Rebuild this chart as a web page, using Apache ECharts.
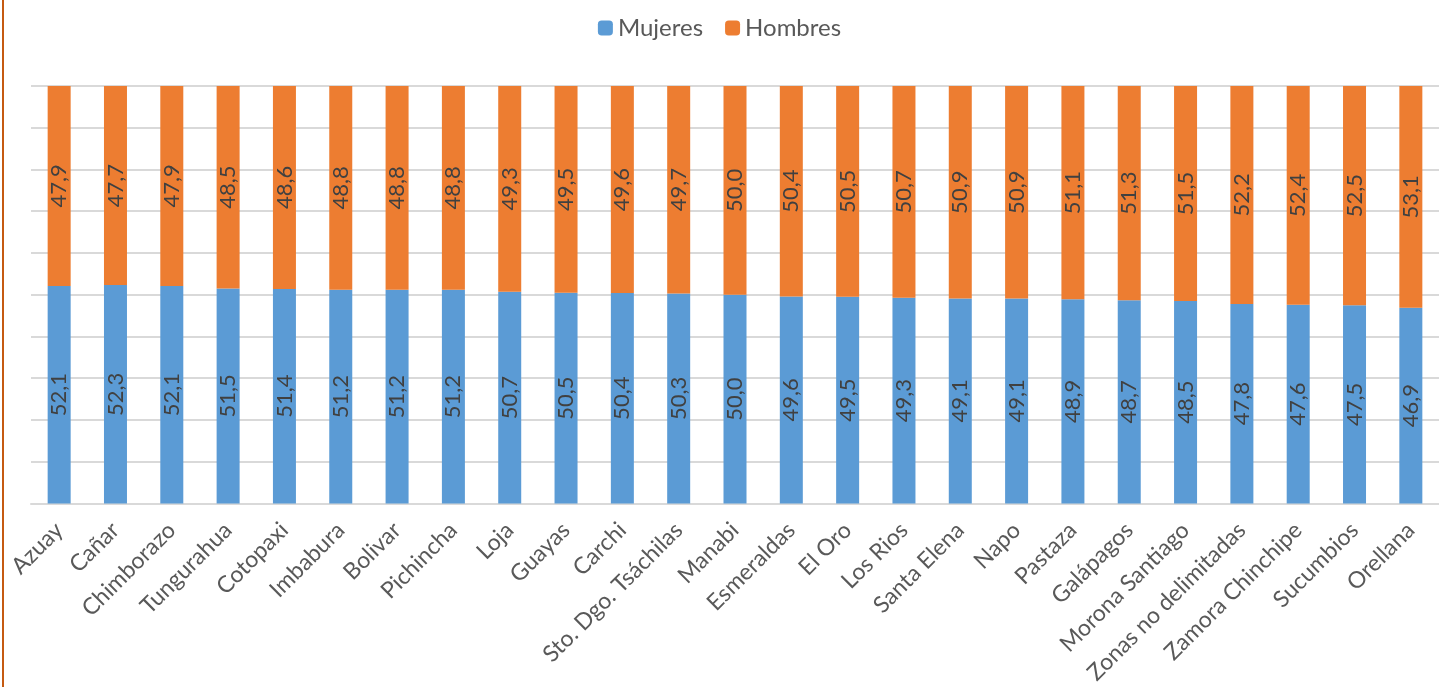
<!DOCTYPE html>
<html><head><meta charset="utf-8">
<script src="https://cdn.jsdelivr.net/npm/echarts@6/dist/echarts.min.js"></script>
<style>html,body{margin:0;padding:0;background:#fff}#c{width:1439px;height:687px}</style>
</head><body><div id="c"></div>
<script>
var categories = ["Azuay","Cañar","Chimborazo","Tungurahua","Cotopaxi","Imbabura","Bolivar","Pichincha","Loja","Guayas","Carchi","Sto. Dgo. Tsáchilas","Manabi","Esmeraldas","El Oro","Los Rios","Santa Elena","Napo","Pastaza","Galápagos","Morona Santiago","Zonas no delimitadas","Zamora Chinchipe","Sucumbios","Orellana"];
var mujeres = [52.1,52.3,52.1,51.5,51.4,51.2,51.2,51.2,50.7,50.5,50.4,50.3,50.0,49.6,49.5,49.3,49.1,49.1,48.9,48.7,48.5,47.8,47.6,47.5,46.9];
var hombres = [47.9,47.7,47.9,48.5,48.6,48.8,48.8,48.8,49.3,49.5,49.6,49.7,50.0,50.4,50.5,50.7,50.9,50.9,51.1,51.3,51.5,52.2,52.4,52.5,53.1];

var chart = echarts.init(document.getElementById('c'));
var font = 'Lato, "Open Sans", sans-serif';
function lbl(){
  return {show:true, position:'inside', rotate:90, color:'#404040', fontSize:22, fontFamily:font,
    formatter:function(p){return p.value.toFixed(1).replace('.',',');}};
}
chart.setOption({
  animation:false,
  textStyle:{fontFamily:font},
  graphic:[{type:'rect', shape:{x:2,y:0,width:2,height:687}, style:{fill:'#C55A11'}}],
  legend:{top:11,left:'center',itemWidth:15,itemHeight:15,itemGap:22,
    textStyle:{fontSize:24,color:'#595959',fontFamily:font},
    data:['Mujeres','Hombres']},
  grid:{left:31,right:-8,top:86,bottom:182,containLabel:false},
  xAxis:{type:'category',data:categories,
    axisLine:{show:true,lineStyle:{color:'#d9d9d9',width:2}},
    axisTick:{show:false},
    axisLabel:{rotate:45,fontSize:23,color:'#595959',margin:23,interval:0,fontFamily:font}},
  yAxis:{type:'value',min:0,max:100,interval:10,
    axisLabel:{show:false},axisLine:{show:false},axisTick:{show:false},
    splitLine:{lineStyle:{color:'#d9d9d9',width:2}}},
  series:[
    {name:'Mujeres',type:'bar',stack:'t',data:mujeres,barWidth:23,
     itemStyle:{color:'#5B9BD5'},label:lbl()},
    {name:'Hombres',type:'bar',stack:'t',data:hombres,barWidth:23,
     itemStyle:{color:'#ED7D31'},label:lbl()}
  ]
});
</script></body></html>
